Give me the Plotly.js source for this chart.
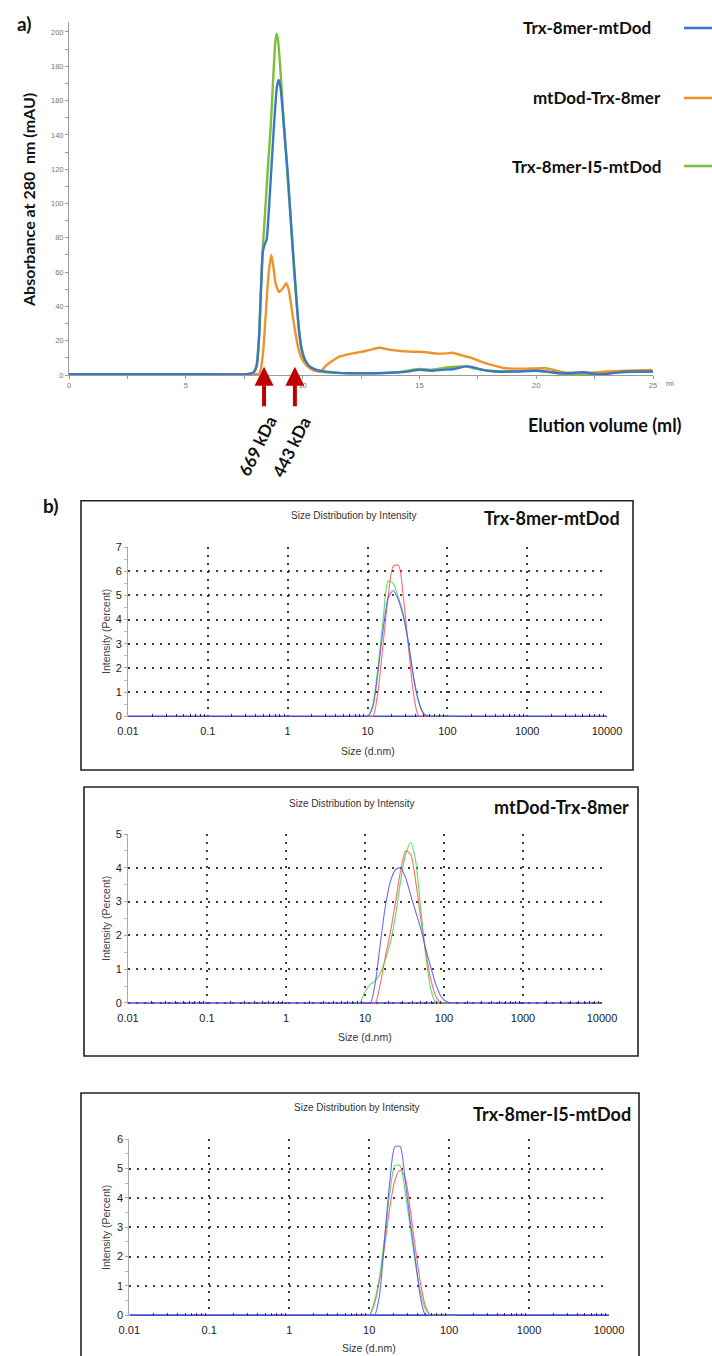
<!DOCTYPE html>
<html><head><meta charset="utf-8">
<script src="https://cdn.plot.ly/plotly-3.0.1.min.js"></script>
<style>html,body{margin:0;padding:0;background:#fff;}#chart{width:712px;height:1356px;}</style>
</head><body><div id="chart"></div>
<script>
// ---------- a) SEC chromatogram ----------
const secNames = ['Trx-8mer-mtDod', 'mtDod-Trx-8mer', 'Trx-8mer-I5-mtDod'];
const secColors = ['#3B78C2', '#F0922B', '#7BBF3A'];

const blueX = [0, 5, 7.6, 7.9, 8.03, 8.13, 8.23, 8.3, 8.4, 8.46, 8.6, 8.75, 8.9, 8.97, 9.05, 9.2, 9.35, 9.44, 9.6, 9.74, 9.85, 9.95, 10.1, 10.3, 10.6, 11.0, 12.0, 13.0, 14.0, 14.5, 15.0, 15.5, 16.0, 16.5, 17.0, 17.3, 17.7, 18.2, 19.0, 20.0, 20.5, 21.0, 21.5, 22.0, 22.6, 23.0, 23.5, 24.0, 25.0];
const blueY = [0.5, 0.5, 0.5, 1.5, 5, 20, 53, 72, 77, 79, 106, 140, 168, 172, 168, 145, 120, 102, 70, 44, 26, 16, 9, 5, 3, 2, 1, 1, 1.5, 2, 3, 2.5, 3, 3.5, 5, 4.5, 3, 2, 2, 2.5, 2, 1, 1.2, 1.6, 0.5, 0.6, 1.5, 2, 2];

const orangeX = [0, 5, 8.0, 8.16, 8.3, 8.42, 8.55, 8.66, 8.75, 8.85, 9.0, 9.15, 9.3, 9.4, 9.5, 9.58, 9.7, 9.8, 9.95, 10.08, 10.3, 10.5, 10.73, 10.85, 11.0, 11.3, 11.58, 12.15, 12.7, 13.29, 13.7, 14.2, 14.71, 15.2, 15.7, 16.14, 16.42, 16.8, 17.28, 17.6, 18.2, 18.7, 19.5, 20.41, 20.8, 21.27, 22.4, 23.0, 23.55, 24.97];
const orangeY = [0.5, 0.5, 0.5, 1, 12, 35, 60, 70, 63, 53, 48.5, 50.5, 53.5, 50, 42, 34, 24, 16.5, 10, 7, 4, 2.5, 2, 3, 5.5, 8.5, 10.7, 12.6, 14, 15.9, 14.8, 14, 13.6, 13.4, 12.5, 12.6, 13, 11.5, 9.7, 8, 5.5, 3.9, 3.7, 3.9, 2.8, 1.4, 1.4, 2, 2.3, 2.9];

const greenX = [0, 5, 7.6, 7.9, 8.03, 8.13, 8.23, 8.3, 8.4, 8.5, 8.64, 8.75, 8.83, 8.89, 8.95, 9.05, 9.2, 9.35, 9.44, 9.6, 9.74, 9.85, 9.95, 10.1, 10.3, 10.6, 11.0, 12.0, 13.0, 14.0, 15.0, 15.5, 16.0, 16.5, 17.0, 17.3, 18.0, 19.0, 20.0, 21.0, 21.5, 22.0, 22.6, 23.5, 25.0];
const greenY = [0.5, 0.5, 0.5, 1.5, 6, 22, 55, 75, 96, 118, 146, 175, 194, 199, 195, 178, 146, 117, 100, 68, 42, 25, 15, 8, 4.5, 2.5, 1.5, 1, 1, 1.5, 3.5, 3, 4, 4.8, 5, 4, 2.5, 2, 2.5, 1, 0.5, 0.5, 0.5, 1.5, 2];

const markerVolumes = [8.35, 9.67];
const markerLabels = ['669 kDa', '443 kDa'];

// ---------- b) DLS size distributions ----------
const dlsTickVals = [0.01, 0.1, 1, 10, 100, 1000, 10000];
const dlsTickText = ['0.01', '0.1', '1', '10', '100', '1000', '10000'];
const dlsSizes = [8.7, 10.1, 11.7, 13.5, 15.7, 18.2, 21.0, 24.4, 28.2, 32.7, 37.8, 43.8, 50.7, 58.8, 68.1, 78.8, 91.3, 105.7, 122.4];

const p1Red   = [0, 0, 0, 1.0, 3.0, 5.0, 6.2, 6.25, 4.9, 2.8, 0.9, 0, 0, 0, 0, 0, 0, 0, 0];
const p1Green = [0, 0, 0.5, 2.0, 4.0, 5.6, 5.5, 4.9, 4.2, 3.0, 1.6, 0.6, 0.1, 0, 0, 0, 0, 0, 0];
const p1Blue  = [0, 0, 0.4, 1.8, 3.6, 4.9, 5.2, 4.8, 4.1, 3.0, 1.6, 0.6, 0.1, 0, 0, 0, 0, 0, 0];

const p2Red   = [0, 0, 0, 0, 0.6, 1.4, 2.1, 3.0, 3.9, 4.5, 4.4, 3.6, 2.5, 1.5, 0.7, 0.2, 0, 0, 0];
const p2Green = [0, 0.35, 0.55, 0.65, 0.9, 1.3, 1.8, 2.6, 3.6, 4.4, 4.75, 4.2, 2.8, 1.4, 0.4, 0, 0, 0, 0];
const p2Blue  = [0, 0, 0, 0.6, 1.8, 2.9, 3.6, 3.95, 4.0, 3.7, 3.2, 2.7, 2.2, 1.6, 1.05, 0.55, 0.2, 0.05, 0];

const p3Red   = [0, 0, 0.4, 1.2, 2.4, 3.7, 4.6, 4.95, 4.7, 3.6, 2.3, 1.1, 0.3, 0, 0, 0, 0, 0, 0];
const p3Green = [0, 0, 0.5, 1.3, 2.7, 4.2, 5.1, 5.1, 4.2, 3.0, 1.8, 0.8, 0.2, 0, 0, 0, 0, 0, 0];
const p3Blue  = [0, 0, 0, 0.7, 2.7, 4.6, 5.75, 5.75, 4.6, 3.2, 1.9, 0.6, 0, 0, 0, 0, 0, 0, 0];

const dlsPanelNames = ['Trx-8mer-mtDod', 'mtDod-Trx-8mer', 'Trx-8mer-I5-mtDod'];
const dlsYMax = [7, 5, 6];

// ---------- layout helpers ----------
const W = 712, H = 1356;
const px = x => x / W;
const py = y => 1 - y / H;
const BOLD = 'Lato, "Open Sans", sans-serif';
const ARIAL = '"Liberation Sans", Arial, sans-serif';
const GRID_DASH = '2px,6px';

const traces = [];
const secData = [[greenX, greenY, 2], [orangeX, orangeY, 1], [blueX, blueY, 0]];
secData.forEach(([xs, ys, k]) => {
  traces.push({x: xs, y: ys, type: 'scatter', mode: 'lines', name: secNames[k], xaxis: 'x', yaxis: 'y',
    line: {color: secColors[k], width: 2.4, shape: 'spline', smoothing: 0.6}, showlegend: false, hoverinfo: 'skip'});
});

const dlsSets = [[p1Red, p1Green, p1Blue], [p2Red, p2Green, p2Blue], [p3Red, p3Green, p3Blue]];
const dlsColors = ['rgba(255,80,80,0.85)', 'rgba(70,210,70,0.85)', 'rgba(80,80,255,0.85)'];
dlsSets.forEach((set, i) => {
  const xa = 'x' + (i + 2), ya = 'y' + (i + 2);
  // baseline (zero intensity over the whole size range)
  traces.push({x: [dlsTickVals[0], dlsTickVals[dlsTickVals.length - 1]], y: [0, 0], type: 'scatter', mode: 'lines',
    xaxis: xa, yaxis: ya, line: {color: '#4a4ad8', width: 1.6}, showlegend: false, hoverinfo: 'skip'});
  set.forEach((vals, j) => {
    traces.push({x: dlsSizes, y: vals, type: 'scatter', mode: 'lines', xaxis: xa, yaxis: ya,
      line: {color: dlsColors[j], width: 1.1, shape: 'spline', smoothing: 0.7}, showlegend: false, hoverinfo: 'skip'});
  });
});

// minor log ticks
const minorVals = [];
[0.01, 0.1, 1, 10, 100, 1000].forEach(d => { for (let m = 2; m <= 9; m++) minorVals.push(d * m); });

const layout = {
  width: W, height: H, margin: {l: 0, r: 0, t: 0, b: 0},
  paper_bgcolor: '#fff', plot_bgcolor: 'rgba(0,0,0,0)', showlegend: false,
  xaxis: {domain: [px(69), px(653)], range: [0, 25], anchor: 'y', showline: true, linecolor: '#9a9a9a', linewidth: 1,
    dtick: 5, tick0: 0, ticks: 'outside', ticklen: 3, tickcolor: '#9a9a9a',
    minor: {dtick: 2.5, ticks: 'outside', ticklen: 3, tickcolor: '#9a9a9a'},
    tickfont: {family: ARIAL, size: 7.5, color: '#777'}, showgrid: false, zeroline: false},
  yaxis: {domain: [py(375), py(21.7)], range: [0, 206], anchor: 'x', showline: true, linecolor: '#9a9a9a', linewidth: 1,
    dtick: 20, ticks: 'outside', ticklen: 3, tickcolor: '#9a9a9a',
    minor: {dtick: 10, ticks: 'outside', ticklen: 3, tickcolor: '#9a9a9a'},
    tickfont: {family: ARIAL, size: 7.5, color: '#777'}, showgrid: false, zeroline: false},
  annotations: [], shapes: []
};

const panels = [
  {box: [81, 500.7, 633, 770], x: [128, 607], y: [717, 547], title: [354, 516], name: [622, 518], ytitle: [106, 632], xtitle: 751},
  {box: [84, 787, 638, 1056], x: [128, 602], y: [1004, 834], title: [352, 803], name: [631, 807], ytitle: [106, 919], xtitle: 1037},
  {box: [81, 1093, 639, 1375], x: [129.3, 609], y: [1316, 1139.3], title: [357, 1107], name: [633, 1114], ytitle: [106, 1228], xtitle: 1348}
];

panels.forEach((p, i) => {
  const n = i + 2;
  layout['xaxis' + n] = {type: 'log', domain: [px(p.x[0]), px(p.x[1])], range: [-2, 4], anchor: 'y' + n,
    tickmode: 'array', tickvals: dlsTickVals, ticktext: dlsTickText, ticks: '', ticklabelstandoff: 6,
    showgrid: true, griddash: GRID_DASH, gridcolor: '#3a3a3a', gridwidth: 2, showline: false, zeroline: false,
    minor: {tickmode: 'array', tickvals: minorVals, ticks: 'inside', ticklen: 3, tickcolor: '#333', showgrid: false},
    tickfont: {family: ARIAL, size: 11, color: '#222'}};
  layout['yaxis' + n] = {domain: [py(p.y[0]), py(p.y[1])], range: [-0.03, dlsYMax[i]], anchor: 'x' + n, dtick: 1,
    showline: true, linecolor: '#aaa', linewidth: 1, ticks: 'outside', ticklen: 3, tickcolor: '#aaa',
    minor: {dtick: 0.5, ticks: 'outside', ticklen: 3, tickcolor: '#bbb'},
    showgrid: true, griddash: GRID_DASH, gridcolor: '#3a3a3a', gridwidth: 2, zeroline: false,
    tickfont: {family: ARIAL, size: 11, color: '#222'}};
  layout.shapes.push({type: 'rect', xref: 'paper', yref: 'paper', x0: px(p.box[0]), x1: px(p.box[2]), y0: py(p.box[1]), y1: py(p.box[3]),
    line: {color: '#222', width: 1.6}, fillcolor: 'rgba(0,0,0,0)'});
  layout.annotations.push(
    {text: 'Size Distribution by Intensity', xref: 'paper', yref: 'paper', x: px(p.title[0]), y: py(p.title[1]), showarrow: false,
      xanchor: 'center', yanchor: 'middle', font: {family: ARIAL, size: 10, color: '#333'}},
    {text: '<b>' + dlsPanelNames[i] + '</b>', xref: 'paper', yref: 'paper', x: px(p.name[0]), y: py(p.name[1]), showarrow: false,
      xanchor: 'right', yanchor: 'middle', font: {family: BOLD, size: 18, color: '#111'}},
    {text: 'Intensity (Percent)', xref: 'paper', yref: 'paper', x: px(p.ytitle[0]), y: py(p.ytitle[1]), showarrow: false,
      textangle: -90, xanchor: 'center', yanchor: 'middle', font: {family: ARIAL, size: 10.5, color: '#444'}},
    {text: 'Size (d.nm)', xref: 'paper', yref: 'paper', x: px((p.x[0] + p.x[1]) / 2), y: py(p.xtitle), showarrow: false,
      xanchor: 'center', yanchor: 'middle', font: {family: ARIAL, size: 10.5, color: '#333'}}
  );
});

// SEC texts
const legY = [28, 98, 166];
const legRight = [653, 663, 663];
secNames.forEach((nm, k) => {
  layout.annotations.push({text: '<b>' + nm + '</b>', xref: 'paper', yref: 'paper', x: px(legRight[k]), y: py(legY[k]),
    showarrow: false, xanchor: 'right', yanchor: 'middle', font: {family: BOLD, size: 17, color: '#111'}});
  layout.shapes.push({type: 'line', xref: 'paper', yref: 'paper', x0: px(684), x1: px(712), y0: py(legY[k]), y1: py(legY[k]),
    line: {color: secColors[k], width: 2.6}});
});
layout.annotations.push(
  {text: '<b>a)</b>', xref: 'paper', yref: 'paper', x: px(24), y: py(23), showarrow: false, xanchor: 'center', yanchor: 'middle',
    font: {family: BOLD, size: 19, color: '#111'}},
  {text: '<b>b)</b>', xref: 'paper', yref: 'paper', x: px(50), y: py(505), showarrow: false, xanchor: 'center', yanchor: 'middle',
    font: {family: BOLD, size: 19, color: '#111'}},
  {text: '<b>Absorbance at 280  nm (mAU)</b>', xref: 'paper', yref: 'paper', x: px(29), y: py(200), showarrow: false, textangle: -90,
    xanchor: 'center', yanchor: 'middle', font: {family: BOLD, size: 16, color: '#111'}},
  {text: '<b>Elution volume (ml)</b>', xref: 'paper', yref: 'paper', x: px(605), y: py(425), showarrow: false,
    xanchor: 'center', yanchor: 'middle', font: {family: BOLD, size: 18, color: '#111'}},
  {text: 'ml', xref: 'paper', yref: 'paper', x: px(670), y: py(383), showarrow: false, xanchor: 'center', yanchor: 'middle',
    font: {family: ARIAL, size: 7.5, color: '#777'}}
);
const labelPos = [[256.7, 446], [290.7, 447]];
markerVolumes.forEach((v, i) => {
  layout.annotations.push({text: '', xref: 'x', yref: 'y', x: v, y: 4.8, showarrow: true, ax: 0, ay: 41,
    arrowhead: 2, arrowsize: 0.95, arrowwidth: 4, arrowcolor: '#C00000'});
  layout.annotations.push({text: '<b>' + markerLabels[i] + '</b>', xref: 'paper', yref: 'paper', x: px(labelPos[i][0]), y: py(labelPos[i][1]),
    showarrow: false, textangle: -64, xanchor: 'center', yanchor: 'middle', font: {family: BOLD, size: 17, color: '#111'}});
});

Plotly.newPlot('chart', traces, layout, {staticPlot: true, displayModeBar: false});
</script></body></html>
